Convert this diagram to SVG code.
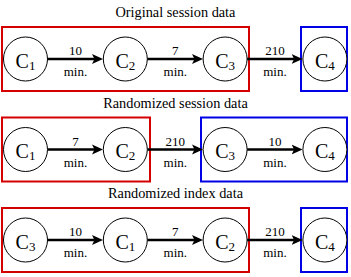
<svg xmlns="http://www.w3.org/2000/svg" width="351" height="277" viewBox="0 0 351 277">
  <defs>
    <style>
      text{font-family:'Liberation Serif','Times New Roman','DejaVu Serif',serif;fill:#000;text-anchor:middle}
      .title{font-size:14.3px}
      .node circle{fill:#fff;stroke:#000;stroke-width:1}
      .node text{font-size:20px}
      .sub{font-size:13px}
      .red{fill:none;stroke:#d40000;stroke-width:2}
      .blue{fill:none;stroke:#0000e6;stroke-width:2}
      .arrow{stroke:#000;stroke-width:2.6;fill:none;marker-end:url(#ah)}
      .lbl{font-size:13px}
    </style>
    <marker id="ah" markerUnits="userSpaceOnUse" markerWidth="12" markerHeight="11" refX="3" refY="5.5" orient="auto">
      <path d="M0,0.5 L11,5.5 L0,10.5 L2.5,5.5 z" fill="#000"/>
    </marker>
  </defs>

  <g font-family="Liberation Serif, serif">
  <!-- Titles -->
  <text class="title" x="175.5" y="17">Original session data</text>
  <text class="title" x="175.5" y="107.5">Randomized session data</text>
  <text class="title" x="175.5" y="198">Randomized index data</text>

  <!-- Groups (boxes) -->
  <g id="row1-red"><rect class="red" x="2" y="27" width="247" height="64"/></g>
  <g id="row1-blue"><rect class="blue" x="301" y="27" width="46" height="64"/></g>
  <g id="row2-red"><rect class="red" x="2" y="117.5" width="148" height="64"/></g>
  <g id="row2-blue"><rect class="blue" x="201" y="117.5" width="146" height="64"/></g>
  <g id="row3-red"><rect class="red" x="2" y="208" width="247" height="64"/></g>
  <g id="row3-blue"><rect class="blue" x="301" y="208" width="46" height="64"/></g>

  <!-- Connectors -->
  <g id="connectors">
    <line class="arrow" x1="47.5" y1="59" x2="95" y2="59"/>
    <text class="lbl" x="75.5" y="55">10</text><text class="lbl" x="75.5" y="76">min.</text>
    <line class="arrow" x1="147.3" y1="59" x2="195" y2="59"/>
    <text class="lbl" x="175.3" y="55">7</text><text class="lbl" x="175.3" y="76">min.</text>
    <line class="arrow" x1="247.1" y1="59" x2="294.6" y2="59"/>
    <text class="lbl" x="275" y="55">210</text><text class="lbl" x="275" y="76">min.</text>

    <line class="arrow" x1="47.5" y1="149.5" x2="95" y2="149.5"/>
    <text class="lbl" x="75.5" y="145.5">7</text><text class="lbl" x="75.5" y="166.5">min.</text>
    <line class="arrow" x1="147.3" y1="149.5" x2="195" y2="149.5"/>
    <text class="lbl" x="175.3" y="145.5">210</text><text class="lbl" x="175.3" y="166.5">min.</text>
    <line class="arrow" x1="247.1" y1="149.5" x2="294.6" y2="149.5"/>
    <text class="lbl" x="275" y="145.5">10</text><text class="lbl" x="275" y="166.5">min.</text>

    <line class="arrow" x1="47.5" y1="240" x2="95" y2="240"/>
    <text class="lbl" x="75.5" y="236">10</text><text class="lbl" x="75.5" y="257">min.</text>
    <line class="arrow" x1="147.3" y1="240" x2="195" y2="240"/>
    <text class="lbl" x="175.3" y="236">7</text><text class="lbl" x="175.3" y="257">min.</text>
    <line class="arrow" x1="247.1" y1="240" x2="294.6" y2="240"/>
    <text class="lbl" x="275" y="236">210</text><text class="lbl" x="275" y="257">min.</text>
  </g>

  <!-- Row 1 nodes -->
  <g id="r1-c1" class="node"><circle cx="25.5" cy="59" r="22"/><text x="25.5" y="67.5">C<tspan class="sub" dy="2">1</tspan></text></g>
  <g id="r1-c2" class="node"><circle cx="125.3" cy="59" r="22"/><text x="125.3" y="67.5">C<tspan class="sub" dy="2">2</tspan></text></g>
  <g id="r1-c3" class="node"><circle cx="225.1" cy="59" r="22"/><text x="225.1" y="67.5">C<tspan class="sub" dy="2">3</tspan></text></g>
  <g id="r1-c4" class="node"><circle cx="324.9" cy="59" r="22"/><text x="324.9" y="67.5">C<tspan class="sub" dy="2">4</tspan></text></g>

  <!-- Row 2 nodes -->
  <g id="r2-c1" class="node"><circle cx="25.5" cy="149.5" r="22"/><text x="25.5" y="158">C<tspan class="sub" dy="2">1</tspan></text></g>
  <g id="r2-c2" class="node"><circle cx="125.3" cy="149.5" r="22"/><text x="125.3" y="158">C<tspan class="sub" dy="2">2</tspan></text></g>
  <g id="r2-c3" class="node"><circle cx="225.1" cy="149.5" r="22"/><text x="225.1" y="158">C<tspan class="sub" dy="2">3</tspan></text></g>
  <g id="r2-c4" class="node"><circle cx="324.9" cy="149.5" r="22"/><text x="324.9" y="158">C<tspan class="sub" dy="2">4</tspan></text></g>

  <!-- Row 3 nodes -->
  <g id="r3-c3" class="node"><circle cx="25.5" cy="240" r="22"/><text x="25.5" y="248.5">C<tspan class="sub" dy="2">3</tspan></text></g>
  <g id="r3-c1" class="node"><circle cx="125.3" cy="240" r="22"/><text x="125.3" y="248.5">C<tspan class="sub" dy="2">1</tspan></text></g>
  <g id="r3-c2" class="node"><circle cx="225.1" cy="240" r="22"/><text x="225.1" y="248.5">C<tspan class="sub" dy="2">2</tspan></text></g>
  <g id="r3-c4" class="node"><circle cx="324.9" cy="240" r="22"/><text x="324.9" y="248.5">C<tspan class="sub" dy="2">4</tspan></text></g>
  </g>
</svg>
